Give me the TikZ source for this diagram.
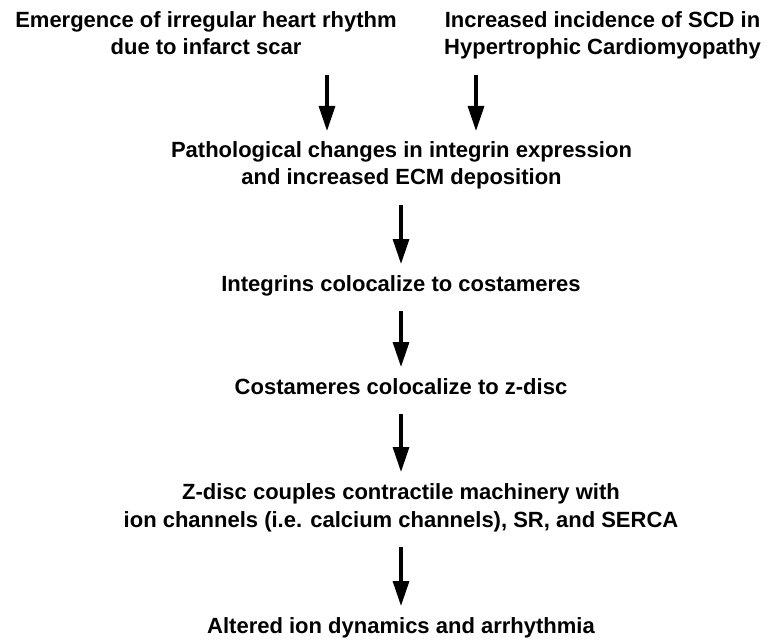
\documentclass[tikz,border=0pt]{standalone}
\usepackage{fontspec}
\setmainfont{Liberation Sans}
\usetikzlibrary{arrows.meta}
\begin{document}
\begin{tikzpicture}[x=1pt,y=1pt,
  lbl/.style={font=\fontsize{22}{27.5}\selectfont\bfseries, align=center, inner sep=0pt, anchor=base},
  arr/.style={-{Triangle[width=16pt,length=25pt]}, line width=3.2pt}]
\useasboundingbox (0,0) rectangle (770,-639);
\node[lbl] (t1) at (206,-55) {Emergence of irregular heart rhythm\\due to infarct scar};
\node[lbl] (t2) at (602.5,-55) {Increased incidence of SCD in\\Hypertrophic Cardiomyopathy};
\node[lbl] (n1) at (401.5,-185) {Pathological changes in integrin expression\\and increased ECM deposition};
\node[lbl] (n2) at (401,-291) {Integrins colocalize to costameres};
\node[lbl] (n3) at (401,-394) {Costameres colocalize to z-disc};
\node[lbl] (n4) at (401,-527) {Z-disc couples contractile machinery with\\ion channels (i.e. calcium channels), SR, and SERCA};
\node[lbl] (n5) at (401,-633) {Altered ion dynamics and arrhythmia};
\draw[arr] ([xshift=121pt,yshift=-20pt]t1.base) -- ([xshift=-74.5pt,yshift=54pt]n1.base);
\draw[arr] ([xshift=-126.5pt,yshift=-20pt]t2.base) -- ([xshift=74.5pt,yshift=54pt]n1.base);
\draw[arr] ([xshift=-0.5pt,yshift=-20pt]n1.base) -- ([yshift=27pt]n2.base);
\draw[arr] ([yshift=-20pt]n2.base) -- ([yshift=27pt]n3.base);
\draw[arr] ([yshift=-20pt]n3.base) -- ([yshift=55pt]n4.base);
\draw[arr] ([yshift=-20pt]n4.base) -- ([yshift=27pt]n5.base);
\end{tikzpicture}
\end{document}
